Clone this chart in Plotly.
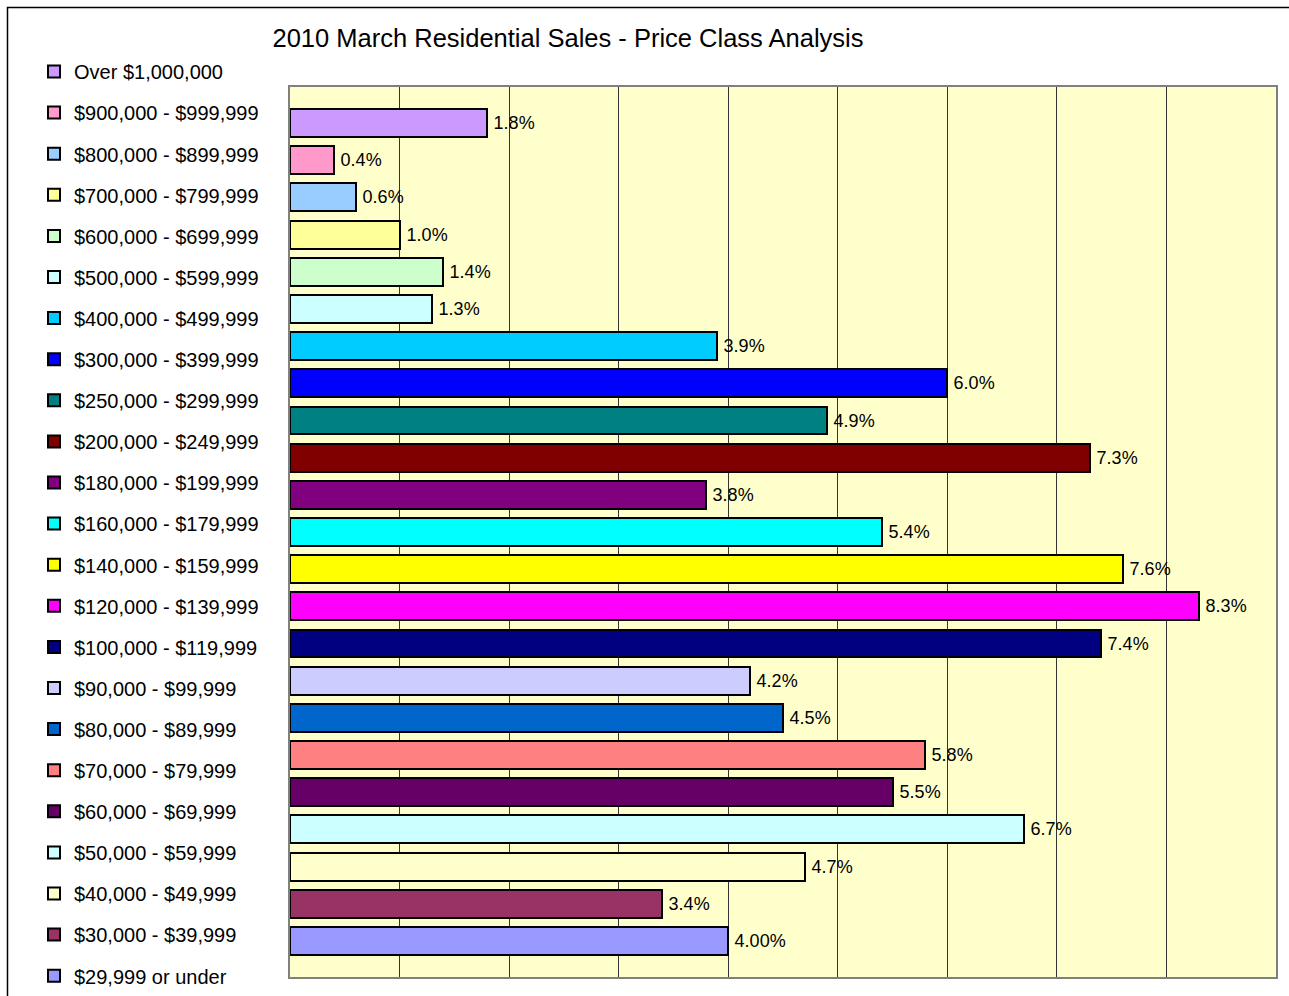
import plotly.graph_objects as go

categories = [
    "Over $1,000,000", "$900,000 - $999,999", "$800,000 - $899,999", "$700,000 - $799,999",
    "$600,000 - $699,999", "$500,000 - $599,999", "$400,000 - $499,999", "$300,000 - $399,999",
    "$250,000 - $299,999", "$200,000 - $249,999", "$180,000 - $199,999", "$160,000 - $179,999",
    "$140,000 - $159,999", "$120,000 - $139,999", "$100,000 - $119,999", "$90,000 - $99,999",
    "$80,000 - $89,999", "$70,000 - $79,999", "$60,000 - $69,999", "$50,000 - $59,999",
    "$40,000 - $49,999", "$30,000 - $39,999", "$29,999 or under",
]
values = [1.8, 0.4, 0.6, 1.0, 1.4, 1.3, 3.9, 6.0, 4.9, 7.3, 3.8, 5.4, 7.6, 8.3, 7.4,
          4.2, 4.5, 5.8, 5.5, 6.7, 4.7, 3.4, 4.0]
labels = ["1.8%", "0.4%", "0.6%", "1.0%", "1.4%", "1.3%", "3.9%", "6.0%", "4.9%", "7.3%",
          "3.8%", "5.4%", "7.6%", "8.3%", "7.4%", "4.2%", "4.5%", "5.8%", "5.5%", "6.7%",
          "4.7%", "3.4%", "4.00%"]
colors = ["#CC99FF", "#FF99CC", "#99CCFF", "#FFFF99", "#CCFFCC", "#CCFFFF", "#00CCFF",
          "#0000FF", "#008080", "#800000", "#800080", "#00FFFF", "#FFFF00", "#FF00FF",
          "#000080", "#CCCCFF", "#0066CC", "#FF8080", "#660066", "#CCFFFF", "#FFFFCC",
          "#993366", "#9999FF"]

FONT = "Liberation Sans, Arial, sans-serif"
W, H = 1289, 996

fig = go.Figure()
for cat, val, lab, col in zip(categories, values, labels, colors):
    fig.add_trace(go.Bar(
        y=[cat], x=[val], orientation="h", name=cat, legendgroup=cat,
        width=0.75,
        marker=dict(color=col, line=dict(color="black", width=2)),
        text=[lab], texttemplate="\u2009%{text}", textposition="outside", cliponaxis=False,
        textfont=dict(family=FONT, size=18, color="black"),
    ))

fig.update_layout(
    width=W, height=H,
    margin=dict(l=290, r=13, t=87, b=19, autoexpand=False),
    paper_bgcolor="white",
    plot_bgcolor="#FFFFCC",
    barmode="overlay",
    bargap=0,
    font=dict(family=FONT, color="black"),
    title=dict(text="2010 March Residential Sales - Price Class Analysis",
               x=568 / W, xanchor="center", y=1 - 38 / H, yanchor="middle",
               font=dict(family=FONT, size=25.5, color="black")),
    showlegend=True,
    legend=dict(
        xref="container", yref="container",
        x=34 / W, xanchor="left", y=1 - 52 / H, yanchor="top",
        traceorder="grouped", tracegroupgap=12.1,
        font=dict(family=FONT, size=20, color="black"),
        bgcolor="rgba(0,0,0,0)", itemwidth=30,
    ),
    xaxis=dict(range=[0, 9], dtick=1, showticklabels=False, ticks="",
               showgrid=True, gridcolor="#333333", gridwidth=1, zeroline=False,
               showline=True, mirror=True, linecolor="#808080", linewidth=2),
    yaxis=dict(categoryorder="array", categoryarray=categories,
               range=[len(categories) - 1 + 0.97, -0.97],
               showticklabels=False, ticks="", showgrid=False, zeroline=False,
               showline=True, mirror=True, linecolor="#808080", linewidth=2),
    shapes=[dict(type="rect", xref="paper", yref="paper",
                 x0=(7.5 - 290) / 986, x1=1.2, y0=-0.1, y1=(977 - 7.5) / 890,
                 line=dict(color="black", width=1.5), fillcolor="rgba(0,0,0,0)",
                 layer="below")],
)

try:
    fig.update_layout(legend_maxheight=995)
except Exception:
    pass

fig.write_html("out.html",
               config={"displayModeBar": False},
               post_script="document.body.style.margin='0';document.body.style.overflow='hidden';")
